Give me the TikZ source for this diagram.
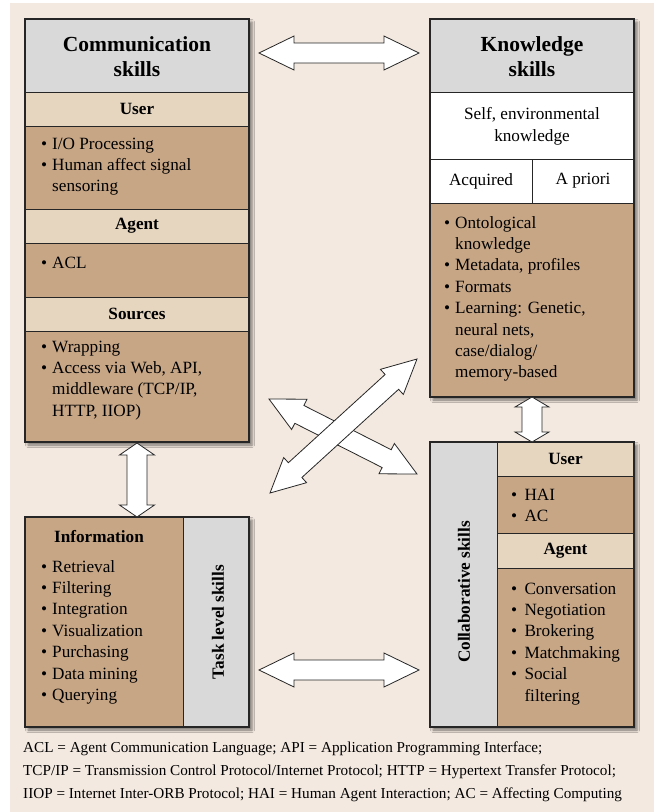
\documentclass[tikz,border=0pt]{standalone}
\usepackage{fontspec}
\setmainfont{Liberation Serif}
\usetikzlibrary{calc,shadows.blur}

\definecolor{paper}{RGB}{243,233,224}
\definecolor{titlegray}{RGB}{217,217,217}
\definecolor{headtan}{RGB}{230,214,192}
\definecolor{bodybrown}{RGB}{199,166,134}

\newcommand{\bl}[1][11pt]{\makebox[#1][l]{\textbullet}}
\newcommand{\ind}[1][11pt]{\hspace*{#1}}

% double block arrow: from, to, head length, head half width
\newcommand{\dblarrow}[4]{%
	\draw[blockarrow] let \p1=(#1), \p2=(#2), \n1={atan2(\y2-\y1,\x2-\x1)} in
		(\p1) -- ($(\p1)+(\n1:#3)+(\n1+90:#4)$) -- ($(\p1)+(\n1:#3)+(\n1+90:10pt)$)
		-- ($(\p2)+(\n1+180:#3)+(\n1+90:10pt)$) -- ($(\p2)+(\n1+180:#3)+(\n1+90:#4)$) -- (\p2)
		-- ($(\p2)+(\n1+180:#3)+(\n1-90:#4)$) -- ($(\p2)+(\n1+180:#3)+(\n1-90:10pt)$)
		-- ($(\p1)+(\n1:#3)+(\n1-90:10pt)$) -- ($(\p1)+(\n1:#3)+(\n1-90:#4)$) -- cycle;}

\tikzset{
	boxshadow/.style={fill=white, blur shadow={shadow xshift=3pt, shadow yshift=-3pt, shadow blur radius=2.5pt, shadow opacity=50}},
	cell/.style={draw=black!85, line width=0.9pt},
	boxframe/.style={draw=black!85, line width=1.3pt},
	blockarrow/.style={draw=black!85, fill=white, line width=0.8pt, line join=miter},
	titletext/.style={font=\bfseries\fontsize{21.5}{25}\selectfont, align=center, inner sep=0pt},
	headtext/.style={font=\bfseries\fontsize{17.2}{21.4}\selectfont, inner sep=0pt},
	plaintext/.style={font=\fontsize{17.2}{22}\selectfont, align=center, inner sep=0pt},
	listtext/.style={font=\fontsize{17.2}{21.4}\selectfont, align=left, anchor=north west, inner sep=0pt},
	sidetext/.style={font=\bfseries\fontsize{17.2}{21.4}\selectfont, rotate=90, inner sep=0pt},
	notetext/.style={font=\fontsize{15.2}{23}\selectfont, align=left, anchor=west, inner sep=0pt}
}

\begin{document}
\begin{tikzpicture}[x=1pt,y=-1pt]
	\useasboundingbox (0,0) rectangle (654,812);
	\fill[paper] (10,3) rectangle (654,812);

	% communication skills
	\fill[boxshadow] (25,19) rectangle (249,442);
	\filldraw[cell, fill=titlegray] (25,19) rectangle (249,92);
	\filldraw[cell, fill=headtan] (25,92) rectangle (249,126);
	\filldraw[cell, fill=bodybrown] (25,126) rectangle (249,209);
	\filldraw[cell, fill=headtan] (25,209) rectangle (249,243);
	\filldraw[cell, fill=bodybrown] (25,243) rectangle (249,297);
	\filldraw[cell, fill=headtan] (25,297) rectangle (249,331);
	\filldraw[cell, fill=bodybrown] (25,331) rectangle (249,442);
	\draw[boxframe] (25,19) rectangle (249,442);
		\node[titletext] (commtitle) at (137,57){Communication\\skills};
		\node[headtext] (commuser) at (137,109){User};
		\node[listtext] (commuseritems) at (41,134){\strut\bl I/O Processing\\\bl Human affect signal\\\ind sensoring};
		\node[headtext] (commagent) at (137,226){Agent};
		\node[listtext] (commagentitems) at (41,253){\strut\bl ACL};
		\node[headtext] (commsources) at (137,314){Sources};
		\node[listtext] (commsourceitems) at (41,337){\strut\bl Wrapping\\\bl Access via Web, API,\\\ind middleware (TCP/IP,\\\ind HTTP, IIOP)};

	% knowledge skills
	\fill[boxshadow] (430,19) rectangle (634,397);
	\filldraw[cell, fill=titlegray] (430,19) rectangle (634,92);
	\filldraw[cell, fill=white] (430,92) rectangle (634,159);
	\filldraw[cell, fill=white] (430,159) rectangle (532,203);
	\filldraw[cell, fill=white] (532,159) rectangle (634,203);
	\filldraw[cell, fill=bodybrown] (430,203) rectangle (634,397);
	\draw[boxframe] (430,19) rectangle (634,397);
		\node[titletext] (knowtitle) at (532,57){Knowledge\\skills};
		\node[plaintext] (knowself) at (532,126){Self, environmental\\knowledge};
		\node[plaintext] (knowacq) at (481,181){Acquired};
		\node[plaintext] (knowprior) at (583,181){A priori};
		\node[listtext] (knowitems) at (444,213){\strut\bl Ontological\\\ind knowledge\\\bl Metadata, profiles\\\bl Formats\\\bl Learning: Genetic,\\\ind neural nets,\\\ind case/dialog/\\\ind memory-based};

	% collaborative skills
	\fill[boxshadow] (430,442) rectangle (634,727);
	\filldraw[cell, fill=titlegray] (430,442) rectangle (497,727);
	\filldraw[cell, fill=headtan] (497,442) rectangle (634,476);
	\filldraw[cell, fill=bodybrown] (497,476) rectangle (634,533);
	\filldraw[cell, fill=headtan] (497,533) rectangle (634,568);
	\filldraw[cell, fill=bodybrown] (497,568) rectangle (634,727);
	\draw[boxframe] (430,442) rectangle (634,727);
		\node[sidetext] (collablabel) at (464,592){Collaborative skills};
		\node[headtext] (collabuser) at (565.5,459){User};
		\node[listtext] (collabuseritems) at (511,485){\strut\bl[9pt] HAI\\\bl[9pt] AC};
		\node[headtext] (collabagent) at (565.5,551){Agent};
		\node[listtext] (collabagentitems) at (511,579){\strut\bl[9pt] Conversation\\\bl[9pt] Negotiation\\\bl[9pt] Brokering\\\bl[9pt] Matchmaking\\\bl[9pt] Social\\\ind[9pt] filtering};

	% task level skills
	\fill[boxshadow] (25,517) rectangle (249,727);
	\filldraw[cell, fill=bodybrown] (25,517) rectangle (183,727);
	\filldraw[cell, fill=titlegray] (183,517) rectangle (249,727);
	\draw[boxframe] (25,517) rectangle (249,727);
		\node[headtext] (taskinfo) at (99,537){Information};
		\node[listtext] (taskitems) at (41,557){\strut\bl Retrieval\\\bl Filtering\\\bl Integration\\\bl Visualization\\\bl Purchasing\\\bl Data mining\\\bl Querying};
		\node[sidetext] (tasklabel) at (218,622){Task level skills};

	% arrow ends
	\coordinate (commR) at (259,53);
	\coordinate (knowL) at (419,53);
	\coordinate (commB) at (137,443);
	\coordinate (taskT) at (137,517);
	\coordinate (knowB) at (532,397);
	\coordinate (collabT) at (532,442);
	\coordinate (taskR) at (259,670);
	\coordinate (collabL) at (419,670);
	\coordinate (crossNW) at (269,399);
	\coordinate (crossSE) at (417,474);
	\coordinate (crossSW) at (270,493);
	\coordinate (crossNE) at (417,359);

	\dblarrow{commR}{knowL}{35pt}{17pt}
	\dblarrow{commB}{taskT}{12pt}{17.5pt}
	\dblarrow{knowB}{collabT}{10pt}{17pt}
	\dblarrow{taskR}{collabL}{35pt}{17pt}
	\dblarrow{crossNW}{crossSE}{34pt}{17pt}
	\dblarrow{crossSW}{crossNE}{34pt}{17pt}

	\node[notetext] (notes) at (23,772){ACL = Agent Communication Language; API = Application Programming Interface;\\TCP/IP = Transmission Control Protocol/Internet Protocol; HTTP = Hypertext Transfer Protocol;\\IIOP = Internet Inter-ORB Protocol; HAI = Human Agent Interaction; AC = Affecting Computing};
\end{tikzpicture}
\end{document}
